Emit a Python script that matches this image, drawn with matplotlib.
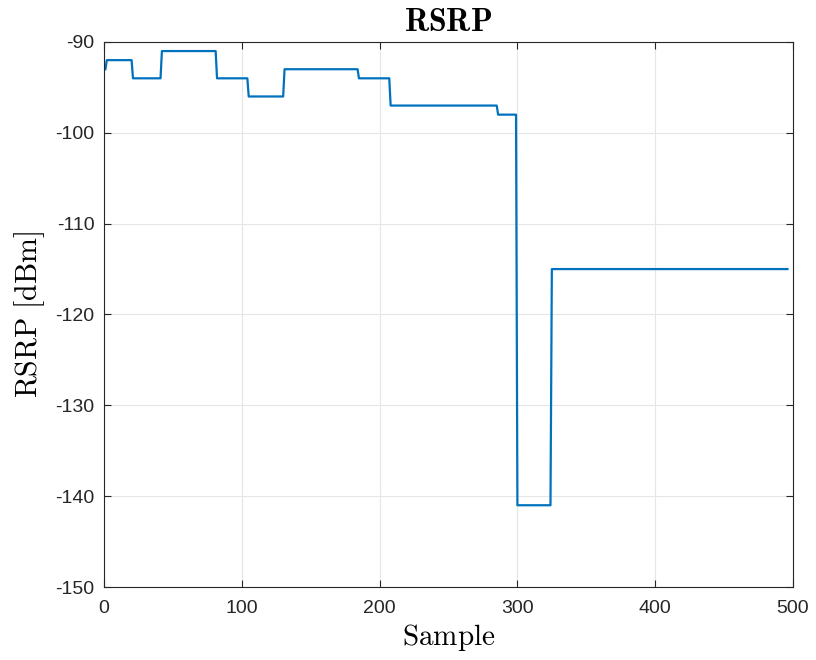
import numpy as np
import matplotlib
matplotlib.use("Agg")
import matplotlib.pyplot as plt

# Step levels: (start sample, RSRP value)
seg_start = [1, 2, 21, 42, 82, 105, 131, 185, 208, 286, 300, 325]
seg_value = [-93, -92, -94, -91, -94, -96, -93, -94, -97, -98, -141, -115]
last_sample = 496

ends = seg_start[1:] + [last_sample + 1]
lengths = [e - s for s, e in zip(seg_start, ends)]
rsrp = np.repeat(seg_value, lengths)
sample = np.arange(1, last_sample + 1)

plt.rcParams['mathtext.fontset'] = 'cm'
plt.rcParams['font.family'] = ['Liberation Sans', 'DejaVu Sans']
plt.rcParams['axes.unicode_minus'] = False

fig = plt.figure(figsize=(8.16, 6.6), dpi=100)
ax = fig.add_axes([0.1275, 0.1106, 0.8443, 0.8258])
ax.plot(sample, rsrp, color='#0072BD', linewidth=1.6)

ax.set_xlim(0, 500)
ax.set_ylim(-150, -90)
ax.set_xticks([0, 100, 200, 300, 400, 500])
ax.set_yticks(np.arange(-150, -89, 10))
ax.grid(True, color='#e6e6e6', linewidth=0.8)
ax.set_axisbelow(True)
ax.tick_params(direction='in', length=5, width=0.8, labelsize=14,
               colors='#262626', top=True, right=True, labeltop=False, labelright=False)
ax.tick_params(axis='x', pad=9)
ax.tick_params(axis='y', pad=7)
for sp in ax.spines.values():
    sp.set_color('#262626')
    sp.set_linewidth(0.8)

ax.set_xlabel(r'$\mathrm{Sample}$', fontsize=21, labelpad=4)
ax.set_ylabel(r'$\mathrm{RSRP\ [dBm]}$', fontsize=21.5, labelpad=6)
ax.set_title(r'$\mathbf{RSRP}$', fontsize=23, pad=8)

fig.savefig('out.png', dpi=100)
